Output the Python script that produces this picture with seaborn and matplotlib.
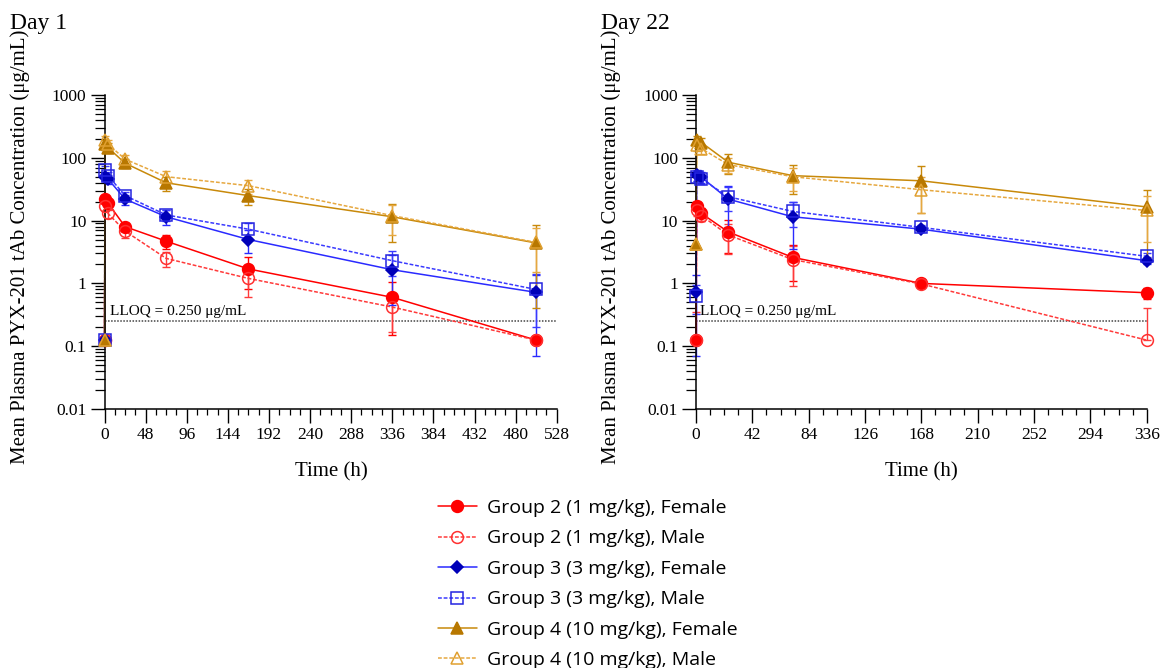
import numpy as np
import matplotlib
matplotlib.use("Agg")
import matplotlib.pyplot as plt
import seaborn as sns
from matplotlib.lines import Line2D
from matplotlib.ticker import FixedLocator, LogLocator, MultipleLocator, NullFormatter

# ---------------- data ----------------
series_labels = [
    "Group 2 (1 mg/kg), Female",
    "Group 2 (1 mg/kg), Male",
    "Group 3 (3 mg/kg), Female",
    "Group 3 (3 mg/kg), Male",
    "Group 4 (10 mg/kg), Female",
    "Group 4 (10 mg/kg), Male",
]

day1_time = [0, 0.5, 4, 24, 72, 168, 336, 504]
day1_g2_f = [0.125, 22, 19, 8.0, 4.7, 1.7, 0.60, 0.125]
day1_g2_m = [0.125, 17, 13, 6.8, 2.5, 1.2, 0.42, 0.125]
day1_g3_f = [0.125, 50, 46, 22, 11.5, 5.0, 1.65, 0.72]
day1_g3_m = [0.125, 65, 52, 25, 12.3, 7.3, 2.3, 0.80]
day1_g4_f = [0.125, 165, 145, 82, 40, 25, 11.5, 4.4]
day1_g4_m = [0.125, 190, 165, 95, 50, 36, 12.0, 4.5]

day1_g2_f_sd = [0, 3, 3, 1.2, 1.2, 0.9, 0.45, 0]
day1_g2_m_sd = [0, 3, 2, 1.5, 0.7, 0.6, 0.25, 0]
day1_g3_f_sd = [0, 8, 8, 4, 3, 2, 1.2, 0.65]
day1_g3_m_sd = [0, 8, 7, 4, 2.5, 2, 1.0, 0.6]
day1_g4_f_sd = [0, 30, 25, 12, 10, 7, 7, 4]
day1_g4_m_sd = [0, 30, 25, 15, 12, 9, 6, 3]

day22_time = [0, 0.5, 4, 24, 72, 168, 336]
day22_g2_f = [0.125, 17, 13, 6.6, 2.6, 1.0, 0.71]
day22_g2_m = [0.125, 15, 12, 5.9, 2.4, 0.98, 0.125]
day22_g3_f = [0.72, 53, 49, 22, 11.5, 7.3, 2.3]
day22_g3_m = [0.63, 50, 46, 24, 14, 7.8, 2.7]
day22_g4_f = [4.3, 190, 175, 85, 52, 43, 16.5]
day22_g4_m = [4.3, 160, 140, 78, 50, 31, 14.5]

day22_g2_f_sd = [0, 3, 3, 3.5, 1.5, 0.1, 0.15]
day22_g2_m_sd = [0.23, 3, 2, 3, 1.5, 0.1, 0.28]
day22_g3_f_sd = [0.65, 10, 10, 14, 8, 0.8, 0.3]
day22_g3_m_sd = [0.3, 8, 8, 10, 6, 0.6, 0.3]
day22_g4_f_sd = [0, 35, 30, 30, 25, 30, 14]
day22_g4_m_sd = [0, 30, 25, 20, 20, 18, 10]

lloq = 0.250
y_ticks = [0.01, 0.1, 1, 10, 100, 1000]
y_tick_labels = ["0.01", "0.1", "1", "10", "100", "1000"]

# ---------------- style ----------------
sns.set_theme(style="ticks")
plt.rcParams["font.family"] = ["Liberation Serif", "DejaVu Serif"]
plt.rcParams["text.color"] = "black"
plt.rcParams["axes.labelcolor"] = "black"
plt.rcParams["xtick.color"] = "black"
plt.rcParams["ytick.color"] = "black"

dash = (0, (2.5, 1.2))
styles = [
    dict(color="#FF0000", mec="#FF0000", mfc="#FF0000", marker="o", ms=8.5, ls="-"),
    dict(color="#FF3a3a", mec="#FF3030", mfc="none", marker="o", ms=8.5, ls=dash),
    dict(color="#2a2aFF", mec="#0000B8", mfc="#0000B8", marker="D", ms=6.5, ls="-"),
    dict(color="#3a3aFF", mec="#2525E0", mfc="none", marker="s", ms=8, ls=dash),
    dict(color="#C8890A", mec="#B87800", mfc="#B87800", marker="^", ms=9, ls="-"),
    dict(color="#E6A840", mec="#E0A030", mfc="none", marker="^", ms=9, ls=dash),
]

fig = plt.figure(figsize=(11.63, 6.68), dpi=100)
ax1 = fig.add_axes([0.0899, 0.3877, 0.3888, 0.4701])
ax2 = fig.add_axes([0.5985, 0.3877, 0.3875, 0.4701])


def draw(ax, t, means, sds, xmax, step, minor_step, lloq_x):
    t = np.asarray(t, float)
    for m, sd, st in zip(means, sds, styles):
        m = np.asarray(m, float)
        sd = np.asarray(sd, float)
        ok = sd > 0
        lower = np.where(m - sd > 0, sd, 0.0)
        ax.errorbar(t[ok], m[ok], yerr=[lower[ok], sd[ok]], fmt="none",
                    ecolor=st["color"], elinewidth=1.0, capsize=3, capthick=1.0,
                    clip_on=False, zorder=2)
        # connecting line
        sns.lineplot(x=t, y=m, ax=ax, color=st["color"], linestyle=st["ls"],
                     linewidth=1.1, estimator=None, sort=False,
                     errorbar=None, clip_on=False, zorder=3)
        # markers on top of the axis spines
        sns.lineplot(x=t, y=m, ax=ax, color=st["color"], linestyle="none",
                     marker=st["marker"], markersize=st["ms"],
                     markeredgecolor=st["mec"], markerfacecolor=st["mfc"],
                     markeredgewidth=1.1, estimator=None, sort=False,
                     errorbar=None, clip_on=False, zorder=5)
    ax.plot([0, xmax], [lloq, lloq], color="#444444", lw=1.1,
            ls=(0, (1, 1)), zorder=1)
    ax.text(lloq_x, lloq * 1.13, "LLOQ = 0.250 \u03bcg/mL", fontsize=11,
            ha="left", va="bottom")
    ax.set_yscale("log")
    ax.set_ylim(0.01, 1000)
    ax.set_xlim(0, xmax)
    ax.yaxis.set_major_locator(FixedLocator(y_ticks))
    ax.set_yticklabels(y_tick_labels)
    ax.yaxis.set_minor_locator(LogLocator(base=10, subs=np.arange(2, 10)))
    ax.yaxis.set_minor_formatter(NullFormatter())
    ax.set_xticks(np.arange(0, xmax + 0.1, step))
    ax.set_xticklabels([f"{int(v)}" for v in np.arange(0, xmax + 0.1, step)])
    ax.xaxis.set_minor_locator(MultipleLocator(minor_step))
    ax.spines["top"].set_visible(False)
    ax.spines["right"].set_visible(False)
    for s in ("left", "bottom"):
        ax.spines[s].set_color("black")
        ax.spines[s].set_linewidth(1.1)
        ax.spines[s].set_zorder(4)
    ax.tick_params(axis="both", which="major", direction="out", length=10,
                   width=1.0, labelsize=12.5, pad=3)
    ax.tick_params(axis="y", which="minor", direction="out", length=7, width=0.9)
    ax.tick_params(axis="x", which="minor", direction="out", length=4.5, width=0.9)
    ax.set_xlabel("")
    ax.set_ylabel("")
    ax.set_facecolor("white")


draw(ax1, day1_time,
     [day1_g2_f, day1_g2_m, day1_g3_f, day1_g3_m, day1_g4_f, day1_g4_m],
     [day1_g2_f_sd, day1_g2_m_sd, day1_g3_f_sd, day1_g3_m_sd, day1_g4_f_sd, day1_g4_m_sd],
     528, 48, 12, 6)
draw(ax2, day22_time,
     [day22_g2_f, day22_g2_m, day22_g3_f, day22_g3_m, day22_g4_f, day22_g4_m],
     [day22_g2_f_sd, day22_g2_m_sd, day22_g3_f_sd, day22_g3_m_sd, day22_g4_f_sd, day22_g4_m_sd],
     336, 42, 10.5, 3)

W, H = 1163, 668
ylab = "Mean Plasma PYX-201 tAb Concentration (\u03bcg/mL)"
fig.text(20 / W, 1 - 247 / H, ylab, rotation=90, ha="center", va="center", fontsize=15)
fig.text(611 / W, 1 - 247 / H, ylab, rotation=90, ha="center", va="center", fontsize=15)
fig.text(331 / W, 1 - 472 / H, "Time (h)", ha="center", va="center", fontsize=15)
fig.text(921 / W, 1 - 472 / H, "Time (h)", ha="center", va="center", fontsize=15)
fig.text(10 / W, 1 - 24 / H, "Day 1", ha="left", va="center", fontsize=17)
fig.text(601 / W, 1 - 24 / H, "Day 22", ha="left", va="center", fontsize=17)

handles = [Line2D([], [], color=st["color"], linestyle=st["ls"], linewidth=1.1,
                  marker=st["marker"], markersize=st["ms"], markeredgecolor=st["mec"],
                  markerfacecolor=st["mfc"], markeredgewidth=1.1)
           for st in styles]
fig.legend(handles, series_labels, loc="upper left",
           bbox_to_anchor=(438 / W, 1 - 499 / H), frameon=False,
           prop={"family": "Open Sans", "size": 14}, handlelength=2.0,
           handletextpad=0.5, labelspacing=0.64, borderpad=0, borderaxespad=0)

fig.savefig("out.png", dpi=100, facecolor="white")
